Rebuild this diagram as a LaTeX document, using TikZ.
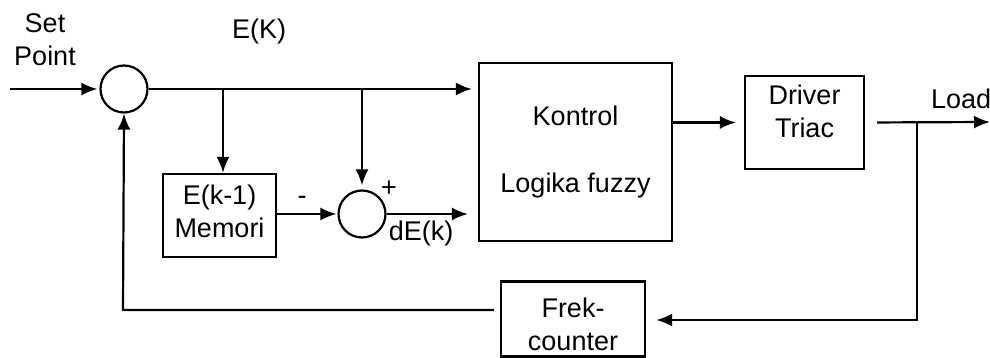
\documentclass[tikz,border=0pt]{standalone}
\usepackage{fontspec}
\setmainfont{Liberation Sans}
\usetikzlibrary{arrows.meta,positioning}

\begin{document}
\begin{tikzpicture}[x=1pt, y=-1pt,
    blok/.style={draw, line width=2.2pt, inner sep=0pt, align=center,
                 font=\fontsize{27}{33}\selectfont},
    sumcirc/.style={draw, circle, line width=2.2pt, minimum size=47pt, inner sep=0pt},
    lbl/.style={font=\fontsize{27}{33}\selectfont, inner sep=0pt, align=center},
    wire/.style={line width=2.2pt},
    arr/.style={wire, -{Latex[length=16pt, width=13pt]}},
]
  \useasboundingbox (0,0) rectangle (990,358);

  % summing points
  \node[sumcirc] (sum1) at (124,89) {};
  \node[sumcirc] (sum2) at (362,214) {};

  % blocks
  \node[blok, minimum width=113pt, minimum height=83pt] (mem) at (219.5,215.5) {};
  \node[lbl] (memtxt) at (219.5,211) {E(k-1)\\Memori};
  \node[blok, minimum width=193pt, minimum height=178pt] (fuzzy) at (575.5,152) {Kontrol\\[34pt]Logika fuzzy};
  \node[blok, minimum width=119pt, minimum height=93pt] (driver) at (804.5,122.5) {};
  \node[lbl] (drtxt) at (804.5,111) {Driver\\Triac};
  \node[blok, minimum width=144pt, minimum height=75pt] (frek) at (573,319) {};
  \node[lbl] (frtxt) at (573,324) {Frek-\\counter};

  % labels
  \node[lbl] (sp) at (45,40) {Set\\Point};
  \node[lbl] (ek) at (259,32) {E(K)};
  \node[lbl] (neg) at (302,200) {-};
  \node[lbl] (pos) at (389,189) {+};
  \node[lbl] (dek) at (421,234) {dE(k)};
  \node[lbl, anchor=base west] (load) at (931,109) {Load};

  % helper points
  \coordinate (in) at (10,89);
  \coordinate (b1) at (223,89);
  \coordinate (b2) at (362,89);
  \coordinate (out) at (990,122);
  \coordinate (b3) at (917,122);
  \coordinate (c1) at (917,320);
  \coordinate (c2) at (123,310);

  % forward path
  \draw[arr, shorten >=2pt] (in) -- (sum1.west);
  \draw[arr, shorten >=6pt] (sum1.east) -- (sum1.east -| fuzzy.west);
  \draw[arr] (b1) -- (mem.north -| b1);
  \draw[arr, shorten >=4pt] (b2) -- (sum2.north);
  \draw[arr, shorten >=1pt] (mem.east |- sum2) -- (sum2.west);
  \draw[arr, shorten >=10pt] (sum2.east) -- (sum2.east -| fuzzy.west);
  \draw[arr, shorten >=8pt] (fuzzy.east |- driver) -- (driver.west);
  \draw[arr, shorten <=12pt] (driver.east) -- (out);

  % feedback
  \draw[arr, shorten >=10pt] (b3) -- (c1) -- (c1 -| frek.east);
  \draw[arr, shorten <=6pt] (frek.west |- c2) -- (c2) -- (sum1.south);
\end{tikzpicture}
\end{document}
